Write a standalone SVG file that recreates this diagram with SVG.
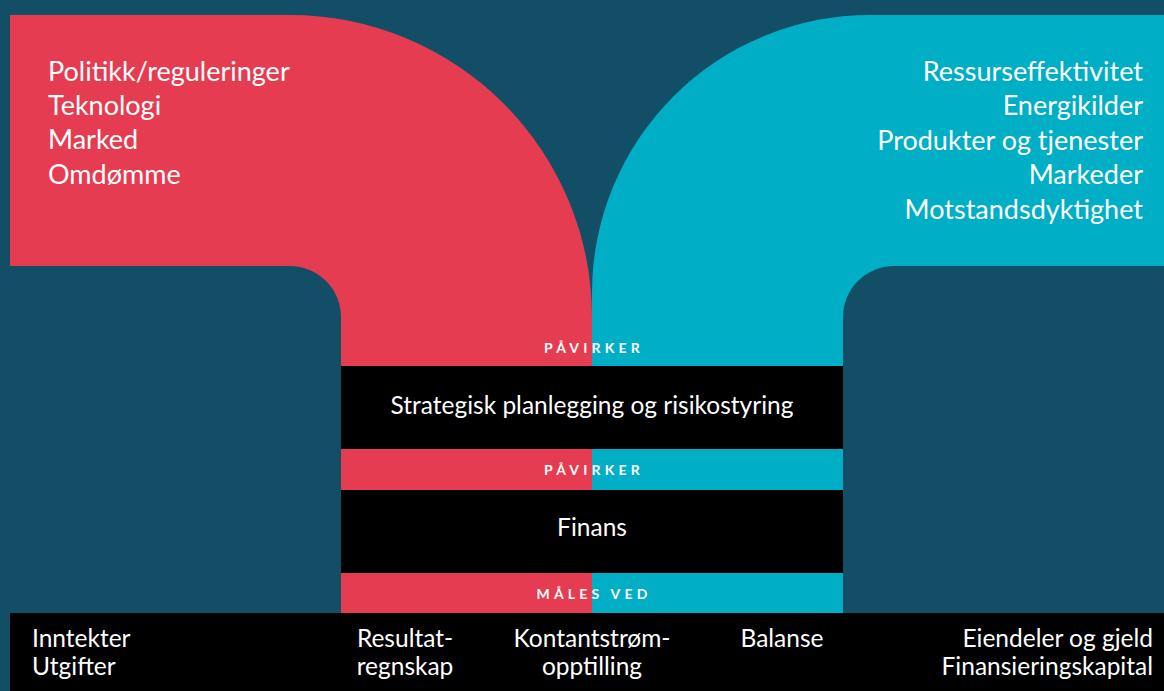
<svg xmlns="http://www.w3.org/2000/svg" width="1164" height="691" viewBox="0 0 1164 691">
<style>
.t{font-family:Lato,"Open Sans","Liberation Sans",sans-serif;fill:#ffffff}
.big{font-size:27px}
.mid{font-size:24.5px}
.lab{font-size:14px;font-weight:bold;letter-spacing:4.2px}
.red{fill:#e53c51}
.cyan{fill:#00aec6}
.blk{fill:#000000}
</style>
<rect x="0" y="0" width="1164" height="691" fill="#124f66"/>
<g id="pressures">
<path class="red" d="M10,15 H290 A302,302 0 0 1 592,317 V613 H341 V317 A51,51 0 0 0 290,266 H10 Z"/>
<text class="t big" x="48" y="81">Politikk/reguleringer</text>
<text class="t big" x="48" y="115">Teknologi</text>
<text class="t big" x="48" y="149">Marked</text>
<text class="t big" x="48" y="184">Omdømme</text>
</g>
<g id="opportunities">
<path class="cyan" d="M1164,15 H870 A278,278 0 0 0 592,293 V613 H843 V317 A51,51 0 0 1 894,266 H1164 Z"/>
<text class="t big" x="1143" y="81" text-anchor="end">Ressurseffektivitet</text>
<text class="t big" x="1143" y="115" text-anchor="end">Energikilder</text>
<text class="t big" x="1143" y="150" text-anchor="end">Produkter og tjenester</text>
<text class="t big" x="1143" y="184" text-anchor="end">Markeder</text>
<text class="t big" x="1143" y="219" text-anchor="end">Motstandsdyktighet</text>
</g>
<g id="connectors">
<text class="t lab" x="594" y="353" text-anchor="middle">PÅVIRKER</text>
<text class="t lab" x="594" y="475" text-anchor="middle">PÅVIRKER</text>
<text class="t lab" x="594" y="599" text-anchor="middle">MÅLES VED</text>
</g>
<g id="strategy">
<rect class="blk" x="341" y="366" width="502" height="83"/>
<text class="t mid" x="592" y="414" text-anchor="middle">Strategisk planlegging og risikostyring</text>
</g>
<g id="finance">
<rect class="blk" x="341" y="490" width="502" height="83"/>
<text class="t mid" x="592" y="536" text-anchor="middle">Finans</text>
</g>
<g id="measures">
<rect class="blk" x="10" y="613" width="1154" height="78"/>
<text class="t mid" x="32" y="647">Inntekter</text>
<text class="t mid" x="32" y="675">Utgifter</text>
<text class="t mid" x="405" y="647" text-anchor="middle">Resultat-</text>
<text class="t mid" x="405" y="675" text-anchor="middle">regnskap</text>
<text class="t mid" x="592" y="647" text-anchor="middle">Kontantstrøm-</text>
<text class="t mid" x="592" y="675" text-anchor="middle">opptilling</text>
<text class="t mid" x="782" y="647" text-anchor="middle">Balanse</text>
<text class="t mid" x="1153" y="647" text-anchor="end">Eiendeler og gjeld</text>
<text class="t mid" x="1153" y="675" text-anchor="end">Finansieringskapital</text>
</g>
</svg>
